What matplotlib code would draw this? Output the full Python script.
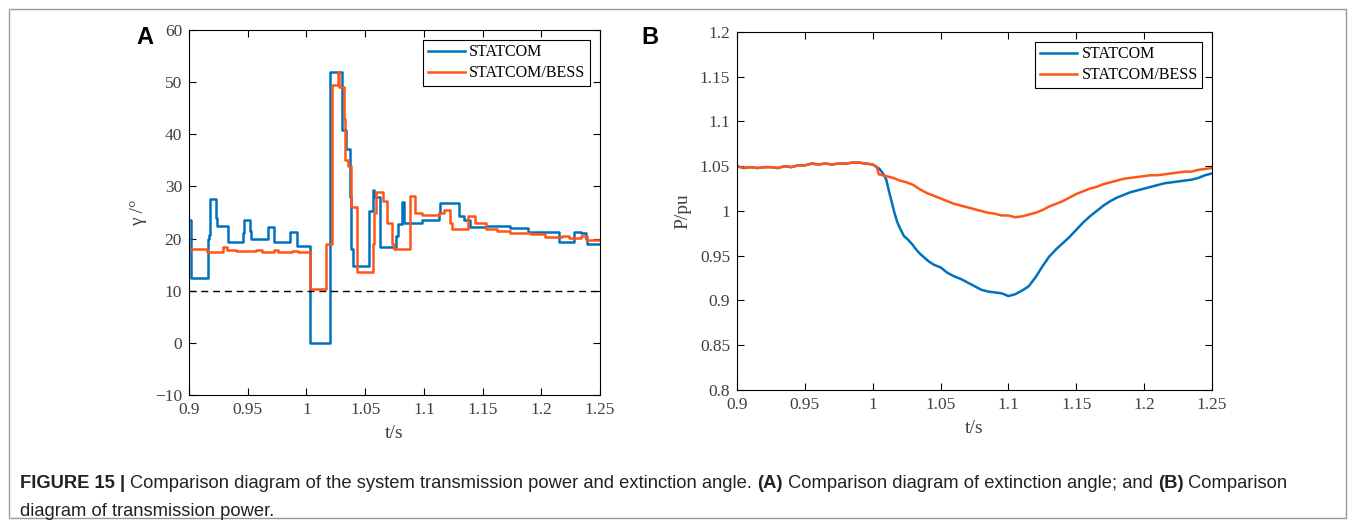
import matplotlib
matplotlib.use("Agg")
import matplotlib.pyplot as plt
from matplotlib.patches import Rectangle

# panel A: extinction angle (step traces, value holds from t until next t)
a_t_statcom = [0.900, 0.9015, 0.902, 0.916, 0.917, 0.918, 0.923, 0.924, 0.933, 0.946,
               0.947, 0.952, 0.953, 0.967, 0.972, 0.986, 0.992, 1.003, 1.0198, 1.0306,
               1.0334, 1.0372, 1.038, 1.0397, 1.0533, 1.0567, 1.0578, 1.0627, 1.0765, 1.078,
               1.0818, 1.0828, 1.098, 1.113, 1.114, 1.130, 1.1346, 1.139, 1.153, 1.173,
               1.189, 1.215, 1.228, 1.234, 1.238, 1.239, 1.250]
a_v_statcom = [23.5, 17.0, 12.5, 20.0, 20.7, 27.5, 24.0, 22.5, 19.3, 21.0,
               23.5, 21.5, 20.0, 22.3, 19.3, 21.3, 18.5, 0.0, 52.0, 40.8,
               37.1, 28.0, 18.0, 14.8, 25.2, 29.3, 28.0, 18.3, 20.5, 22.8,
               27.0, 23.0, 23.5, 25.0, 26.8, 24.3, 23.5, 22.3, 22.5, 22.0,
               21.3, 19.3, 21.3, 21.0, 20.0, 19.0, 19.0]

a_t_bess = [0.900, 0.915, 0.929, 0.932, 0.940, 0.957, 0.962, 0.972, 0.976, 0.988,
            0.993, 1.0027, 1.0164, 1.0218, 1.0269, 1.0276, 1.032, 1.033, 1.035, 1.038,
            1.043, 1.0565, 1.0575, 1.0595, 1.061, 1.065, 1.0686, 1.0727, 1.0745, 1.0885,
            1.0925, 1.098, 1.113, 1.117, 1.1225, 1.124, 1.138, 1.1435, 1.153, 1.162,
            1.173, 1.191, 1.203, 1.218, 1.224, 1.234, 1.239, 1.250]
a_v_bess = [18.0, 17.5, 18.3, 17.8, 17.6, 17.9, 17.5, 17.8, 17.5, 17.7,
            17.5, 10.3, 19.0, 49.5, 52.0, 49.0, 43.0, 35.0, 34.0, 26.0,
            13.5, 19.0, 25.0, 29.0, 29.0, 27.3, 23.0, 19.0, 18.0, 28.2,
            25.0, 24.5, 25.0, 25.5, 23.0, 21.8, 24.3, 23.0, 21.8, 21.5,
            21.0, 20.8, 20.3, 20.5, 20.2, 20.5, 19.8, 19.8]

gamma_min = 10

# panel B: transmission power
b_t_bess = [0.900, 0.905, 0.910, 0.915, 0.920, 0.925, 0.930, 0.935, 0.940, 0.945,
            0.950, 0.955, 0.960, 0.965, 0.970, 0.975, 0.980, 0.985, 0.990, 0.995,
            1.000, 1.003, 1.0045, 1.010, 1.015, 1.020, 1.025, 1.030, 1.035, 1.040,
            1.045, 1.050, 1.055, 1.060, 1.065, 1.070, 1.075, 1.080, 1.085, 1.090,
            1.095, 1.100, 1.105, 1.110, 1.115, 1.120, 1.125, 1.130, 1.135, 1.140,
            1.145, 1.150, 1.155, 1.160, 1.165, 1.170, 1.175, 1.180, 1.185, 1.190,
            1.195, 1.200, 1.205, 1.210, 1.215, 1.220, 1.225, 1.230, 1.235, 1.240,
            1.245, 1.250]
b_p_bess = [1.050, 1.048, 1.049, 1.048, 1.049, 1.049, 1.048, 1.050, 1.049, 1.051,
            1.051, 1.053, 1.052, 1.053, 1.052, 1.053, 1.053, 1.054, 1.054, 1.053,
            1.052, 1.049, 1.041, 1.039, 1.037, 1.034, 1.032, 1.029, 1.024, 1.020,
            1.017, 1.014, 1.011, 1.008, 1.006, 1.004, 1.002, 1.000, 0.998, 0.997,
            0.995, 0.995, 0.993, 0.994, 0.996, 0.998, 1.001, 1.005, 1.008, 1.011,
            1.015, 1.019, 1.022, 1.025, 1.027, 1.030, 1.032, 1.034, 1.036, 1.037,
            1.038, 1.039, 1.040, 1.040, 1.041, 1.042, 1.043, 1.044, 1.044, 1.046,
            1.047, 1.048]

b_t_statcom = [0.900, 0.905, 0.910, 0.915, 0.920, 0.925, 0.930, 0.935, 0.940, 0.945,
               0.950, 0.955, 0.960, 0.965, 0.970, 0.975, 0.980, 0.985, 0.990, 0.995,
               1.000, 1.003, 1.005, 1.008, 1.010, 1.012, 1.014, 1.016, 1.018, 1.020,
               1.023, 1.026, 1.029, 1.032, 1.035, 1.038, 1.041, 1.045, 1.050, 1.055,
               1.060, 1.065, 1.070, 1.075, 1.080, 1.085, 1.090, 1.095, 1.100, 1.105,
               1.110, 1.115, 1.120, 1.125, 1.130, 1.135, 1.140, 1.145, 1.150, 1.155,
               1.160, 1.165, 1.170, 1.175, 1.180, 1.185, 1.190, 1.195, 1.200, 1.205,
               1.210, 1.215, 1.220, 1.225, 1.230, 1.235, 1.240, 1.245, 1.250]
b_p_statcom = [1.050, 1.048, 1.049, 1.048, 1.049, 1.049, 1.048, 1.050, 1.049, 1.051,
               1.051, 1.053, 1.052, 1.053, 1.052, 1.053, 1.053, 1.054, 1.054, 1.053,
               1.052, 1.049, 1.047, 1.041, 1.035, 1.022, 1.010, 0.998, 0.988, 0.981,
               0.972, 0.968, 0.963, 0.957, 0.952, 0.948, 0.944, 0.940, 0.937, 0.931,
               0.927, 0.924, 0.920, 0.916, 0.912, 0.910, 0.909, 0.908, 0.905, 0.907,
               0.911, 0.916, 0.926, 0.938, 0.949, 0.957, 0.964, 0.971, 0.979, 0.987,
               0.994, 1.000, 1.006, 1.011, 1.015, 1.018, 1.021, 1.023, 1.025, 1.027,
               1.029, 1.031, 1.032, 1.033, 1.034, 1.035, 1.037, 1.040, 1.042]

x_ticks = [0.9, 0.95, 1.0, 1.05, 1.1, 1.15, 1.2, 1.25]
x_labels = ["0.9", "0.95", "1", "1.05", "1.1", "1.15", "1.2", "1.25"]
a_y_ticks = [-10, 0, 10, 20, 30, 40, 50, 60]
b_y_ticks = [0.8, 0.85, 0.9, 0.95, 1.0, 1.05, 1.1, 1.15, 1.2]
b_y_labels = ["0.8", "0.85", "0.9", "0.95", "1", "1.05", "1.1", "1.15", "1.2"]

blue = "#0072BD"
orange = "#FF5516"
serif = "Liberation Serif"
grey = "#404040"

fig = plt.figure(figsize=(13.55, 5.27), dpi=100)

# outer frame
fig.patches.append(Rectangle((9 / 1355, 9 / 527), 1337 / 1355, 509 / 527,
                             transform=fig.transFigure, fill=False,
                             edgecolor="#9a9a9a", linewidth=1.0))

ax1 = fig.add_axes([189 / 1355, 1 - 395 / 527, 411 / 1355, 365 / 527])
ax2 = fig.add_axes([737 / 1355, 1 - 390 / 527, 475 / 1355, 358 / 527])


def style(ax):
    ax.tick_params(direction="in", top=True, right=True, length=5, width=0.8,
                   labelsize=12.5, colors="black", labelcolor=grey, pad=5)
    for lab in ax.get_xticklabels() + ax.get_yticklabels():
        lab.set_fontfamily(serif)
    for sp in ax.spines.values():
        sp.set_linewidth(0.8)


def add_legend(ax):
    leg = ax.legend(loc="upper right", prop={"family": serif, "size": 11.5}, frameon=True,
                    fancybox=False, edgecolor="black", framealpha=1, borderpad=0.3,
                    handlelength=2.3, handletextpad=0.3, labelspacing=0.3,
                    borderaxespad=0.6)
    leg.get_frame().set_linewidth(0.8)


ax1.step(a_t_statcom, a_v_statcom, where="post", color=blue, lw=1.8, label="STATCOM")
ax1.step(a_t_bess, a_v_bess, where="post", color=orange, lw=1.8, label="STATCOM/BESS")
ax1.axhline(gamma_min, color="black", lw=1.0, ls=(0, (5, 3.5)))
ax1.set_xlim(0.9, 1.25)
ax1.set_ylim(-10, 60)
ax1.set_xticks(x_ticks, x_labels)
ax1.set_yticks(a_y_ticks)
style(ax1)
ax1.set_xlabel("t/s", fontfamily=serif, fontsize=14, color=grey, labelpad=5)
ax1.set_ylabel("γ /°", fontfamily=serif, fontsize=14, color=grey, labelpad=6)
add_legend(ax1)

ax2.plot(b_t_statcom, b_p_statcom, color=blue, lw=1.8, label="STATCOM")
ax2.plot(b_t_bess, b_p_bess, color=orange, lw=1.8, label="STATCOM/BESS")
ax2.set_xlim(0.9, 1.25)
ax2.set_ylim(0.8, 1.2)
ax2.set_xticks(x_ticks, x_labels)
ax2.set_yticks(b_y_ticks, b_y_labels)
style(ax2)
ax2.set_xlabel("t/s", fontfamily=serif, fontsize=14, color=grey, labelpad=5)
ax2.set_ylabel("P/pu", fontfamily=serif, fontsize=14, color=grey, labelpad=6)
add_legend(ax2)

fig.text(145 / 1355, 1 - 38 / 527, "A", fontsize=17, fontweight="bold",
         family="Liberation Sans", ha="center", va="center")
fig.text(650 / 1355, 1 - 38 / 527, "B", fontsize=17, fontweight="bold",
         family="Liberation Sans", ha="center", va="center")

# caption with mixed bold runs
renderer = fig.canvas.get_renderer()
lines = [
    [("FIGURE 15 | ", "bold"),
     ("Comparison diagram of the system transmission power and extinction angle. ", "normal"),
     ("(A)", "bold"), (" Comparison diagram of extinction angle; and ", "normal"),
     ("(B)", "bold"), (" Comparison", "normal")],
    [("diagram of transmission power.", "normal")],
]
ys = [484, 511]
for runs, yp in zip(lines, ys):
    x = 20 / 1355
    for txt, w in runs:
        t = fig.text(x, 1 - yp / 527, txt, fontsize=13.2, fontweight=w,
                     family="Liberation Sans", color="#222222", va="center")
        bb = t.get_window_extent(renderer=renderer)
        x += bb.width / fig.bbox.width

fig.savefig("out.png", dpi=100)
